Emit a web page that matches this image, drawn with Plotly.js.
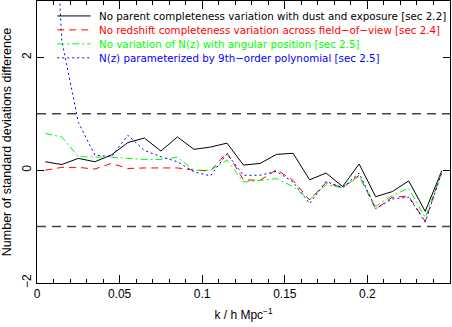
<!DOCTYPE html>
<html>
<head>
<meta charset="utf-8">
<script src="https://cdn.plot.ly/plotly-3.0.1.min.js"></script>
<style>
  html, body { margin: 0; padding: 0; background: #fff; }
  #plot { width: 452px; height: 327px; }
</style>
</head>
<body>
<div id="plot"></div>
<script>
// k bins (h/Mpc)
var kVals = [0.005, 0.015, 0.025, 0.035, 0.045, 0.055, 0.065, 0.075, 0.085, 0.095,
             0.105, 0.115, 0.125, 0.135, 0.145, 0.155, 0.165, 0.175, 0.185, 0.195,
             0.205, 0.215, 0.225, 0.235, 0.245];

// number of standard deviations difference for each test
var parentDust   = [0.15, 0.10, 0.21, 0.15, 0.27, 0.49, 0.57, 0.34, 0.59, 0.37,
                    0.41, 0.48, 0.09, 0.12, 0.28, 0.30, -0.17, -0.05, -0.29, 0.11,
                    -0.47, -0.38, -0.19, -0.73, -0.01];
var redshiftFov  = [0.00, 0.05, 0.05, 0.02, 0.12, 0.03, 0.04, 0.04, 0.04, 0.00,
                    -0.01, 0.31, -0.17, -0.18, 0.01, -0.18, -0.53, -0.22, -0.31, -0.09,
                    -0.69, -0.48, -0.46, -0.91, -0.02];
var nzAngular    = [0.65, 0.59, 0.24, 0.24, 0.23, 0.21, 0.19, 0.19, 0.23, 0.00,
                    0.00, 0.18, -0.21, -0.18, -0.15, -0.29, -0.52, -0.26, -0.31, -0.11,
                    -0.64, -0.45, -0.32, -0.84, -0.04];
var nzPoly       = [8.0, 2.3, 0.85, 0.27, 0.24, 0.62, 0.35, 0.24, 0.15, -0.03,
                    -0.10, 0.29, -0.09, -0.09, -0.02, -0.21, -0.59, -0.20, -0.31, -0.05,
                    -0.68, -0.51, -0.48, -0.92, -0.04];

var names = [
  "No parent completeness variation with dust and exposure [sec 2.2]",
  "No redshift completeness variation across field\u2212of\u2212view [sec 2.4]",
  "No variation of N(z) with angular position [sec 2.5]",
  "N(z) parameterized by 9th\u2212order polynomial [sec 2.5]"
];
var series = [parentDust, redshiftFov, nzAngular, nzPoly];
var colors = ["#000000", "#ff0000", "#00ff00", "#0000ff"];
var dashes = ["solid", "7px,5px", "7px,3px,2px,3px", "2px,3px"];

var refLines = [1, -1];

var font = "Liberation Sans, Arial, sans-serif";
var legendFont = "DejaVu Sans, sans-serif";

var data = series.map(function(s, i) {
  return {
    x: kVals,
    y: s,
    type: "scatter",
    mode: "lines",
    name: names[i],
    line: { color: colors[i], width: 1, dash: dashes[i] },
    showlegend: false
  };
});

// horizontal +/-1 sigma lines
var shapes = refLines.map(function(v) {
  return {
    type: "line", xref: "paper", yref: "y",
    x0: 0, x1: 1, y0: v, y1: v,
    line: { color: "#444", width: 1.5, dash: "9px,6px" }
  };
});

// hand-built legend (tighter row spacing than plotly's)
var annotations = [];
names.forEach(function(n, i) {
  var yp = 0.947 - i * 0.0495;
  shapes.push({
    type: "line", xref: "paper", yref: "paper",
    x0: 0.049, x1: 0.13, y0: yp, y1: yp,
    line: { color: colors[i], width: 1, dash: dashes[i] }
  });
  annotations.push({
    xref: "paper", yref: "paper", x: 0.146, y: yp,
    xanchor: "left", yanchor: "middle", showarrow: false,
    text: n, font: { family: legendFont, size: 10.3, color: colors[i] }
  });
});

var layout = {
  width: 452,
  height: 327,
  margin: { l: 37, r: 2, t: 1, b: 44 },
  paper_bgcolor: "#fff",
  plot_bgcolor: "#fff",
  font: { family: font, size: 12, color: "#000" },
  xaxis: {
    range: [0, 0.25],
    tickvals: [0, 0.05, 0.1, 0.15, 0.2],
    ticktext: ["0", "0.05", "0.1", "0.15", "0.2"],
    ticks: "inside", ticklen: 8, tickcolor: "#000",
    minor: { dtick: 0.01, ticks: "inside", ticklen: 4, tickcolor: "#000" },
    showline: true, linecolor: "#000", linewidth: 1, mirror: "ticks",
    showgrid: false, zeroline: false,
    tickfont: { size: 12 },
    title: { text: "k / h Mpc<sup>\u22121</sup>", font: { size: 12 }, standoff: 10 }
  },
  yaxis: {
    range: [-2, 3],
    tickvals: [-2, 0, 2],
    ticktext: ["\u22122", "0", "2"],
    tickangle: -90,
    ticks: "inside", ticklen: 7, tickcolor: "#000",
    showline: true, linecolor: "#000", linewidth: 1, mirror: "ticks",
    showgrid: false, zeroline: false,
    tickfont: { size: 12 },
    title: { text: "Number of standard deviations difference", font: { size: 12.5 }, standoff: 6 }
  },
  shapes: shapes,
  annotations: annotations
};

Plotly.newPlot("plot", data, layout, { displayModeBar: false, staticPlot: true });
</script>
</body>
</html>
